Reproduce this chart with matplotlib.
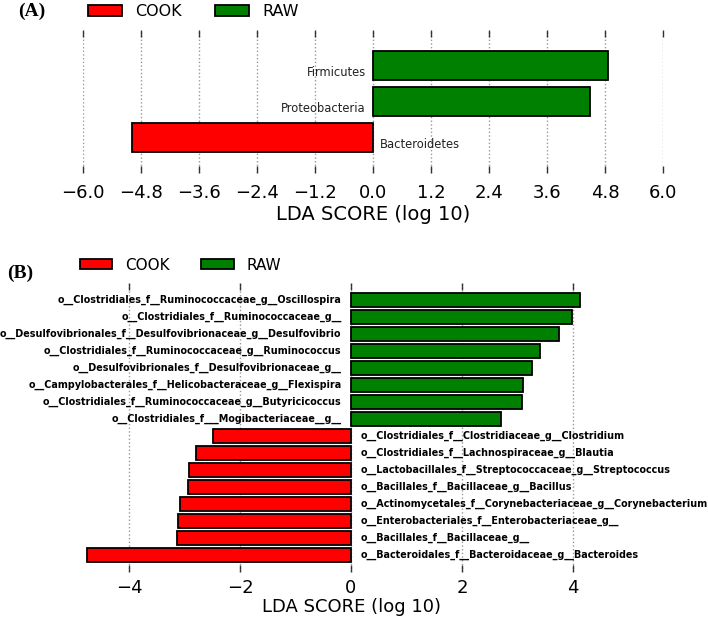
import matplotlib
matplotlib.use('Agg')
import matplotlib.pyplot as plt
from matplotlib.patches import Patch
import numpy as np

# Панель A: уровень типа (сверху вниз)
phylum_names = ['Firmicutes', 'Proteobacteria', 'Bacteroidetes']
phylum_lda = [4.87, 4.48, -4.99]

# Панель B: уровень рода (сверху вниз)
genus_names = [
    'o__Clostridiales_f__Ruminococcaceae_g__Oscillospira',
    'o__Clostridiales_f__Ruminococcaceae_g__',
    'o__Desulfovibrionales_f__Desulfovibrionaceae_g__Desulfovibrio',
    'o__Clostridiales_f__Ruminococcaceae_g__Ruminococcus',
    'o__Desulfovibrionales_f__Desulfovibrionaceae_g__',
    'o__Campylobacterales_f__Helicobacteraceae_g__Flexispira',
    'o__Clostridiales_f__Ruminococcaceae_g__Butyricicoccus',
    'o__Clostridiales_f___Mogibacteriaceae__g__',
    'o__Clostridiales_f__Clostridiaceae_g__Clostridium',
    'o__Clostridiales_f__Lachnospiraceae_g__Blautia',
    'o__Lactobacillales_f__Streptococcaceae_g__Streptococcus',
    'o__Bacillales_f__Bacillaceae_g__Bacillus',
    'o__Actinomycetales_f__Corynebacteriaceae_g__Corynebacterium',
    'o__Enterobacteriales_f__Enterobacteriaceae_g__',
    'o__Bacillales_f__Bacillaceae_g__',
    'o__Bacteroidales_f__Bacteroidaceae_g__Bacteroides',
]
genus_lda = [4.13, 3.98, 3.75, 3.40, 3.26, 3.10, 3.08, 2.70,
             -2.49, -2.79, -2.91, -2.93, -3.09, -3.11, -3.13, -4.76]

groups = ['COOK', 'RAW']
group_colors = {'COOK': '#ff0000', 'RAW': '#008000'}


def draw_lefse(ax, names, values, label_size, label_weight, label_color, offset, dy):
    n = len(names)
    ypos = np.arange(n)[::-1]
    colors = [group_colors['RAW'] if v > 0 else group_colors['COOK'] for v in values]
    ax.barh(ypos, values, height=0.8, color=colors, edgecolor='black', linewidth=1.3, zorder=3)
    for y, name, v in zip(ypos, names, values):
        if v > 0:
            ax.text(-offset, y + dy, name, ha='right', va='center', fontsize=label_size,
                    fontweight=label_weight, color=label_color, zorder=4)
        else:
            ax.text(offset, y + dy, name, ha='left', va='center', fontsize=label_size,
                    fontweight=label_weight, color=label_color, zorder=4)
    ax.set_ylim(-1, n)
    ax.set_yticks([])
    for s in ax.spines.values():
        s.set_visible(False)
    ax.xaxis.grid(True, ls=':', color='#999999', lw=1, zorder=0)
    ax.tick_params(axis='x', direction='in', top=True, bottom=True, length=5,
                   width=1, color='#333333')


fig = plt.figure(figsize=(7.08, 6.19), dpi=100)

# (A)
ax1 = fig.add_axes([83 / 708, 1 - 173 / 619, 580 / 708, 143 / 619])
draw_lefse(ax1, phylum_names, phylum_lda, 8.3, 'normal', '#222222', 0.15, -0.2)
ticks_a = np.linspace(-6, 6, 11)
ax1.set_xlim(-6, 6)
ax1.set_xticks(ticks_a)
ax1.set_xticklabels([('%.1f' % t).replace('-', '\u2212') if abs(t) > 1e-9 else '0.0' for t in ticks_a])
ax1.tick_params(axis='x', labelsize=13, pad=8)
ax1.set_xlabel('LDA SCORE (log 10)', fontsize=14, labelpad=2)

# (B)
ax2 = fig.add_axes([(351 - 277.5) / 708, 1 - 572 / 619, 555 / 708, 289 / 619])
draw_lefse(ax2, genus_names, genus_lda, 6.9, 'bold', 'black', 0.17, 0)
ax2.set_xlim(-5, 5)
ax2.set_xticks([-4, -2, 0, 2, 4])
ax2.tick_params(axis='x', labelsize=13, pad=5)
ax2.set_xlabel('LDA SCORE (log 10)', fontsize=13, labelpad=1)

handles = [Patch(facecolor=group_colors[g], edgecolor='black', linewidth=1.3, label=g) for g in groups]
fig.legend(handles=handles, loc='upper left', bbox_to_anchor=(80 / 708, 1 + 4 / 619), ncol=2,
           frameon=False, fontsize=11.5, borderpad=0, handlelength=2.1, handleheight=0.75,
           handletextpad=0.85, columnspacing=2.1)
fig.legend(handles=handles, loc='upper left', bbox_to_anchor=(72 / 708, 1 - 250 / 619), ncol=2,
           frameon=False, fontsize=11, borderpad=0, handlelength=2.1, handleheight=0.65,
           handletextpad=0.85, columnspacing=2.1)

fig.text(18 / 708, 1 - 11 / 619, '(A)', fontsize=14, fontweight='bold',
         family='Liberation Serif', va='center', ha='left')
fig.text(7 / 708, 1 - 273 / 619, '(B)', fontsize=14, fontweight='bold',
         family='Liberation Serif', va='center', ha='left')

fig.savefig('out.png', dpi=100)
